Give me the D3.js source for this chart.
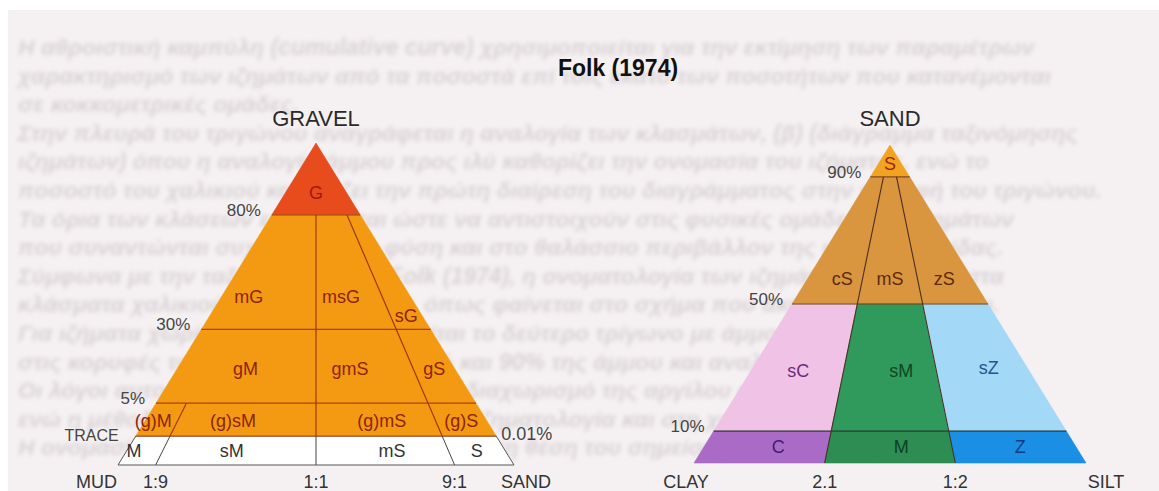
<!DOCTYPE html>
<html>
<head>
<meta charset="utf-8">
<script src="https://cdn.jsdelivr.net/npm/d3@7"></script>
<style>
  html, body { margin: 0; padding: 0; background: #ffffff; }
  svg { display: block; }
  text { font-family: "Liberation Sans", Arial, Helvetica, sans-serif; }
</style>
</head>
<body>
<svg id="chart" width="1159" height="491"></svg>
<script>
// ---------------- data ----------------
const title = "Folk (1974)";

// Gravel – sand – mud triangle
const gravelBounds      = [0, 0.01, 5, 30, 80, 100];      // % gravel
const gravelLevelValues = [0.01, 5, 30, 80];
const gravelLevelLabels = ["TRACE", "5%", "30%", "80%"];
const sandMudBounds     = [0, 0.1, 0.5, 0.9, 1];          // sand / (sand + mud)
const sandMudRatios     = [0.1, 0.5, 0.9];
const sandMudLabels     = ["1:9", "1:1", "9:1"];
const sandMudLineTop    = [5, 80, 80];                    // gravel % where each ratio line stops
const gsmCodes  = ["G", "mG", "msG", "sG", "gM", "gmS", "gS",
                   "(g)M", "(g)sM", "(g)mS", "(g)S", "M", "sM", "mS", "S"];
const gsmRatio  = [[0, 1], [0, 0.5], [0.5, 0.9], [0.9, 1], [0, 0.5], [0.5, 0.9], [0.9, 1],
                   [0, 0.1], [0.1, 0.5], [0.5, 0.9], [0.9, 1], [0, 0.1], [0.1, 0.5], [0.5, 0.9], [0.9, 1]];
const gsmGravel = [[80, 100], [30, 80], [30, 80], [30, 80], [5, 30], [5, 30], [5, 30],
                   [0.01, 5], [0.01, 5], [0.01, 5], [0.01, 5], [0, 0.01], [0, 0.01], [0, 0.01], [0, 0.01]];
// label anchor of each class as [sand ratio, gravel %]
const gsmLabelAt = [[0.5, 86], [0.15, 44], [0.65, 44], [0.95, 36], [0.25, 16.5], [0.64, 16.5], [0.95, 16.5],
                    [0.025, 2.3], [0.26, 2.3], [0.72, 2.3], [0.95, 2.3],
                    [0.02, 0.005], [0.28, 0.005], [0.73, 0.005], [0.95, 0.005]];

// Sand – silt – clay triangle
const sandLevelValues = [10, 50, 90];                      // % sand
const sandLevelLabels = ["10%", "50%", "90%"];
const siltRatios      = [1 / 3, 2 / 3];                    // silt / (silt + clay)
const siltRatioLabels = ["2.1", "1:2"];
const smCodes  = ["S", "cS", "mS", "zS", "sC", "sM", "sZ", "C", "M", "Z"];
const smSilt   = [[0, 1], [0, 1 / 3], [1 / 3, 2 / 3], [2 / 3, 1], [0, 1 / 3], [1 / 3, 2 / 3], [2 / 3, 1],
                  [0, 1 / 3], [1 / 3, 2 / 3], [2 / 3, 1]];
const smSand   = [[90, 100], [50, 90], [50, 90], [50, 90], [10, 50], [10, 50], [10, 50], [0, 10], [0, 10], [0, 10]];
const smLabelAt = [[0.5, 94], [0.21, 58], [0.5, 58], [0.83, 58], [0.17, 29], [0.54, 29], [0.86, 30],
                   [0.2, 5], [0.53, 5], [0.85, 5]];

// Page text behind the figure
const pageLines = [
  "Η αθροιστική καμπύλη (cumulative curve) χρησιμοποιείται για την εκτίμηση των παραμέτρων",
  "χαρακτηρισμό των ιζημάτων από τα ποσοστά επί τοις εκατό των ποσοτήτων που κατανέμονται",
  "σε κοκκομετρικές ομάδες.",
  "Στην πλευρά του τριγώνου αναγράφεται η αναλογία των κλασμάτων, (β) (διάγραμμα ταξινόμησης",
  "ιζημάτων) όπου η αναλογία άμμου προς ιλύ καθορίζει την ονομασία του ιζήματος, ενώ το",
  "ποσοστό του χαλικιού καθορίζει την πρώτη διαίρεση του διαγράμματος στην κορυφή του τριγώνου.",
  "Τα όρια των κλάσεων επιλέγονται ώστε να αντιστοιχούν στις φυσικές ομάδες των ιζημάτων",
  "που συναντώνται συχνότερα στη φύση και στο θαλάσσιο περιβάλλον της υφαλοκρηπίδας.",
  "Σύμφωνα με την ταξινόμηση κατά Folk (1974), η ονοματολογία των ιζημάτων βασίζεται στα",
  "κλάσματα χαλικιού, άμμου και ιλύος, όπως φαίνεται στο σχήμα που ακολουθεί παρακάτω.",
  "Για ιζήματα χωρίς χαλίκι χρησιμοποιείται το δεύτερο τρίγωνο με άμμο, άργιλο και ιλύ",
  "στις κορυφές του, με όρια στο 10%, 50% και 90% της άμμου και αναλογίες 2:1 και 1:2.",
  "Οι λόγοι αυτοί χρησιμοποιούνται για τον διαχωρισμό της αργίλου από την ιλύ στη λάσπη,",
  "ενώ η μέθοδος εφαρμόζεται ευρέως στην ιζηματολογία και στη χαρτογράφηση του πυθμένα.",
  "Η ονομασία κάθε δείγματος προκύπτει από τη θέση του σημείου μέσα στο διάγραμμα."
];

// ---------------- drawing ----------------
const svg = d3.select("#chart");
const W = 1159, H = 491;
const labelSize = 18;

const defs = svg.append("defs");
defs.append("filter").attr("id", "soft")
  .attr("x", "-5%").attr("y", "-50%").attr("width", "110%").attr("height", "200%")
  .append("feGaussianBlur").attr("stdDeviation", 2.1);

// page
svg.append("rect").attr("width", W).attr("height", H).attr("fill", "#ffffff");
svg.append("rect").attr("x", 8).attr("y", 10).attr("width", W - 8).attr("height", H - 10).attr("fill", "#f5f1f2");

const pageY = d3.scaleLinear().domain([0, 1]).range([55, 83.6]);
svg.append("g").attr("filter", "url(#soft)")
  .selectAll("text").data(pageLines).join("text")
  .attr("x", 18).attr("y", (d, i) => pageY(i))
  .attr("font-size", 23).attr("font-style", "italic").attr("font-weight", "bold")
  .attr("fill", "#d9d2d5").text(d => d);

// title
svg.append("text").attr("x", 618).attr("y", 76).attr("text-anchor", "middle")
  .attr("font-size", 23).attr("font-weight", "bold").attr("fill", "#111").text(title);

// ---------- Gravel – sand – mud ----------
const gT = d3.scaleLinear().domain(gravelBounds).range([0, 0.0898, 0.192, 0.421, 0.777, 1]);
const rB = d3.scaleLinear().domain(sandMudBounds).range([0, 0.095, 0.5, 0.85, 1]);
const xL = d3.scaleLinear().domain([0, 1]).range([118, 514]);
const yL = d3.scaleLinear().domain([0, 1]).range([465, 143]);
function gsmPt(r, g) {
  const t = gT(g), b = rB(r);
  return [xL(b + (0.5 - b) * t), yL(t)];
}
const gsmFill = d3.scaleThreshold().domain([0.01, 80]).range(["#ffffff", "#f49a12", "#e84c1c"]);
const gsmInk  = d3.scaleThreshold().domain([0.01, 80]).range(["#333333", "#8c2410", "#a01a0c"]);

const gL = svg.append("g");
const gsmCells = gsmCodes.map((c, i) => ({ code: c, r: gsmRatio[i], g: gsmGravel[i], at: gsmLabelAt[i] }));
gL.selectAll("path.cell").data(gsmCells).join("path").attr("class", "cell")
  .attr("d", d => "M" + [gsmPt(d.r[0], d.g[0]), gsmPt(d.r[1], d.g[0]), gsmPt(d.r[1], d.g[1]), gsmPt(d.r[0], d.g[1])].join("L") + "Z")
  .attr("fill", d => gsmFill(d.g[0])).attr("stroke", d => gsmFill(d.g[0])).attr("stroke-width", 0.6);

// horizontal class limits
gL.selectAll("line.level").data(gravelLevelValues).join("line").attr("class", "level")
  .attr("x1", d => gsmPt(0, d)[0]).attr("y1", d => gsmPt(0, d)[1])
  .attr("x2", d => gsmPt(1, d)[0]).attr("y2", d => gsmPt(1, d)[1])
  .attr("stroke", d => d < 1 ? "#8a3a12" : "#a8420f").attr("stroke-width", 1.3);

// sand:mud ratio lines, grey in the trace band, brown above it
gL.selectAll("line.ratioLow").data(sandMudRatios).join("line").attr("class", "ratioLow")
  .attr("x1", d => gsmPt(d, 0)[0]).attr("y1", d => gsmPt(d, 0)[1])
  .attr("x2", d => gsmPt(d, 0.01)[0]).attr("y2", d => gsmPt(d, 0.01)[1])
  .attr("stroke", "#444").attr("stroke-width", 1);
gL.selectAll("line.ratioHigh").data(sandMudRatios).join("line").attr("class", "ratioHigh")
  .attr("x1", d => gsmPt(d, 0.01)[0]).attr("y1", d => gsmPt(d, 0.01)[1])
  .attr("x2", (d, i) => gsmPt(d, sandMudLineTop[i])[0]).attr("y2", (d, i) => gsmPt(d, sandMudLineTop[i])[1])
  .attr("stroke", "#9a3a10").attr("stroke-width", 1.2);

// outline of the gravel-free band
gL.append("path")
  .attr("d", "M" + [gsmPt(0, 0.01), gsmPt(0, 0), gsmPt(1, 0), gsmPt(1, 0.01)].join("L"))
  .attr("fill", "none").attr("stroke", "#555").attr("stroke-width", 1);

gL.selectAll("text.code").data(gsmCells).join("text").attr("class", "code")
  .attr("x", d => gsmPt(d.at[0], d.at[1])[0]).attr("y", d => gsmPt(d.at[0], d.at[1])[1])
  .attr("text-anchor", "middle").attr("dominant-baseline", "central")
  .attr("font-size", labelSize).attr("fill", d => gsmInk(d.g[0])).text(d => d.code);

// level labels on the left side
gL.selectAll("text.level").data(gravelLevelValues).join("text").attr("class", "level")
  .attr("x", d => gsmPt(0, d)[0] - (d < 1 ? 17 : 11)).attr("y", d => gsmPt(0, d)[1] + (d < 1 ? 5 : 1))
  .attr("text-anchor", "end").attr("font-size", d => d < 1 ? 16 : 17).attr("fill", "#444")
  .text((d, i) => gravelLevelLabels[i]);
gL.append("text").attr("x", gsmPt(1, 0.01)[0] + 5).attr("y", gsmPt(1, 0.01)[1] + 4)
  .attr("font-size", labelSize).attr("fill", "#444").text("0.01%");

// base labels
const baseY = 488;
gL.append("text").attr("x", xL(0) - 1).attr("y", baseY).attr("text-anchor", "end")
  .attr("font-size", labelSize).attr("fill", "#333").text("MUD");
gL.append("text").attr("x", xL(1) + 12).attr("y", baseY).attr("text-anchor", "middle")
  .attr("font-size", labelSize).attr("fill", "#333").text("SAND");
gL.selectAll("text.ratio").data(sandMudRatios).join("text").attr("class", "ratio")
  .attr("x", d => gsmPt(d, 0)[0]).attr("y", baseY).attr("text-anchor", "middle")
  .attr("font-size", labelSize).attr("fill", "#333").text((d, i) => sandMudLabels[i]);
gL.append("text").attr("x", xL(0.5)).attr("y", 126).attr("text-anchor", "middle")
  .attr("font-size", 22).attr("fill", "#2a2a2a").text("GRAVEL");

// ---------- Sand – silt – clay ----------
const xR = d3.scaleLinear().domain([0, 1]).range([694, 1086]);
const yR = d3.scaleLinear().domain([0, 100]).range([463, 145]);
function smPt(f, s) {
  const t = s / 100;
  return [xR(f + (0.5 - f) * t), yR(s)];
}
const smFill = d3.scaleOrdinal().domain(smCodes)
  .range(["#f2a31f", "#d9963f", "#d9963f", "#d9963f", "#f0c3e6", "#2f9a5b", "#a3d9f6", "#a96bc6", "#2d8d53", "#1b8fe4"]);
const smInk = d3.scaleOrdinal().domain(smCodes)
  .range(["#a3280f", "#5e2a0c", "#5e2a0c", "#5e2a0c", "#6a2d78", "#0d4824", "#22558f", "#4a1a6b", "#0b4220", "#0d3c80"]);

const gR = svg.append("g");
const smCells = smCodes.map((c, i) => ({ code: c, f: smSilt[i], s: smSand[i], at: smLabelAt[i] }));
gR.selectAll("path.cell").data(smCells).join("path").attr("class", "cell")
  .attr("d", d => "M" + [smPt(d.f[0], d.s[0]), smPt(d.f[1], d.s[0]), smPt(d.f[1], d.s[1]), smPt(d.f[0], d.s[1])].join("L") + "Z")
  .attr("fill", d => smFill(d.code)).attr("stroke", d => smFill(d.code)).attr("stroke-width", 0.6);

gR.selectAll("line.level").data(sandLevelValues).join("line").attr("class", "level")
  .attr("x1", d => smPt(0, d)[0]).attr("y1", d => smPt(0, d)[1])
  .attr("x2", d => smPt(1, d)[0]).attr("y2", d => smPt(1, d)[1])
  .attr("stroke", d => d > 60 ? "#8a4a1a" : (d > 20 ? "#6b3f22" : "#2e3b30")).attr("stroke-width", 1.2);
gR.selectAll("line.ratio").data(siltRatios).join("line").attr("class", "ratio")
  .attr("x1", d => smPt(d, 0)[0]).attr("y1", d => smPt(d, 0)[1])
  .attr("x2", d => smPt(d, 90)[0]).attr("y2", d => smPt(d, 90)[1])
  .attr("stroke", "#4a2f1e").attr("stroke-width", 1.1);

gR.selectAll("text.code").data(smCells).join("text").attr("class", "code")
  .attr("x", d => smPt(d.at[0], d.at[1])[0]).attr("y", d => smPt(d.at[0], d.at[1])[1])
  .attr("text-anchor", "middle").attr("dominant-baseline", "central")
  .attr("font-size", labelSize).attr("fill", d => smInk(d.code)).text(d => d.code);

gR.selectAll("text.level").data(sandLevelValues).join("text").attr("class", "level")
  .attr("x", d => smPt(0, d)[0] - 9).attr("y", d => smPt(0, d)[1] + 1)
  .attr("text-anchor", "end").attr("font-size", 17).attr("fill", "#444")
  .text((d, i) => sandLevelLabels[i]);

gR.append("text").attr("x", xR(0) - 8).attr("y", baseY).attr("text-anchor", "middle")
  .attr("font-size", labelSize).attr("fill", "#333").text("CLAY");
gR.append("text").attr("x", xR(1) + 20).attr("y", baseY).attr("text-anchor", "middle")
  .attr("font-size", labelSize).attr("fill", "#333").text("SILT");
gR.selectAll("text.ratio").data(siltRatios).join("text").attr("class", "ratio")
  .attr("x", d => smPt(d, 0)[0]).attr("y", baseY).attr("text-anchor", "middle")
  .attr("font-size", labelSize).attr("fill", "#333").text((d, i) => siltRatioLabels[i]);
gR.append("text").attr("x", xR(0.5)).attr("y", 126).attr("text-anchor", "middle")
  .attr("font-size", 22).attr("fill", "#2a2a2a").text("SAND");
</script>
</body>
</html>
